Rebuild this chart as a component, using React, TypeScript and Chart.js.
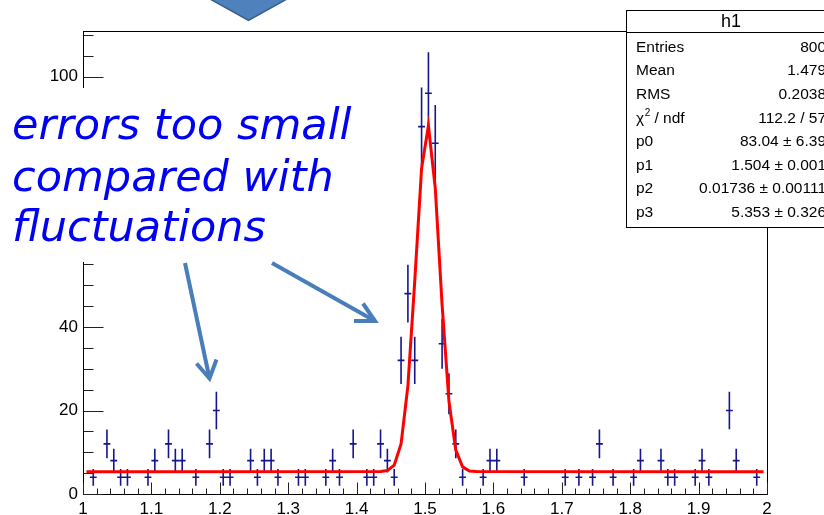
import React, { useEffect, useRef } from 'react';
import { Chart, registerables } from 'chart.js';

Chart.register(...registerables);

// Histogram h1: bin centres (bin width 0.01) and contents of the non-empty bins
const binWidth = 0.01;
const binCenters = [
  1.015, 1.035, 1.045, 1.055, 1.065, 1.095, 1.105, 1.125, 1.135, 1.145,
  1.165, 1.185, 1.195, 1.205, 1.215, 1.245, 1.255, 1.265, 1.275, 1.285,
  1.315, 1.325, 1.355, 1.365, 1.375, 1.395, 1.415, 1.425, 1.435, 1.445,
  1.455, 1.465, 1.475, 1.485, 1.495, 1.505, 1.515, 1.525, 1.535, 1.545,
  1.555, 1.585, 1.595, 1.605, 1.645, 1.705, 1.725, 1.745, 1.755, 1.775,
  1.805, 1.815, 1.845, 1.855, 1.865, 1.895, 1.905, 1.915, 1.945, 1.955,
  1.985,
];
const binCounts = [
  4, 12, 8, 4, 4, 4, 8, 12, 8, 8,
  4, 12, 20, 4, 4, 8, 4, 8, 8, 4,
  4, 4, 4, 8, 4, 12, 4, 4, 12, 8,
  4, 32, 48, 32, 88, 96, 84, 36, 24, 12,
  4, 4, 8, 8, 4, 4, 4, 4, 12, 4,
  4, 8, 8, 4, 4, 4, 8, 4, 20, 8,
  4,
];

// Fit curve (gaussian + constant)
const fitX = [1.005, 1.435, 1.445, 1.455, 1.465, 1.475, 1.485, 1.495, 1.505, 1.515, 1.525, 1.535, 1.545, 1.555, 1.565, 1.575, 1.995];
const fitY = [5.35, 5.38, 5.61, 6.9, 12.0, 25.9, 51.0, 78.0, 88.2, 73.3, 45.3, 22.2, 10.5, 6.5, 5.5, 5.37, 5.35];

// Axis ticks
const xTickValues = [1, 1.1, 1.2, 1.3, 1.4, 1.5, 1.6, 1.7, 1.8, 1.9, 2];
const xTickLabels = ['1', '1.1', '1.2', '1.3', '1.4', '1.5', '1.6', '1.7', '1.8', '1.9', '2'];
const xMinorStep = 0.02;
const yTickValues = [0, 20, 40, 60, 80, 100];
const yTickLabels = ['0', '20', '40', '60', '80', '100'];
const yMinorStep = 5;
const xMin = 1;
const xMax = 2;
const yMin = 0;
const yMax = 110.9;

// Stats box
const statTitle = 'h1';
const statLabels = ['Entries', 'Mean', 'RMS', 'CHI2', 'p0', 'p1', 'p2', 'p3'];
const statValues = ['800', '1.479', '0.2038', '112.2 / 57', '83.04 \u00b1 6.39', '1.504 \u00b1 0.001', '0.01736 \u00b1 0.00111', '5.353 \u00b1 0.326'];

// Annotation
const noteLines = ['errors too small', 'compared with', 'fluctuations'];

const FONT = "'Liberation Sans', Arial, Helvetica, sans-serif";

const rootPlugin = {
  id: 'rootStyle',
  beforeDatasetsDraw(chart: any) {
    const { ctx, chartArea: a, scales } = chart;
    const xs = scales.x;
    const ys = scales.y;
    ctx.save();
    // frame
    const L = Math.round(a.left) + 0.5;
    const T = Math.round(a.top) + 0.5;
    const R = Math.round(a.right) + 0.5;
    const B = Math.round(a.bottom) + 0.5;
    ctx.strokeStyle = '#000';
    ctx.lineWidth = 1;
    ctx.strokeRect(L, T, R - L, B - T);
    // ticks
    ctx.beginPath();
    ctx.strokeStyle = '#222';
    for (let k = 0; ; k++) {
      const v = yMin + k * yMinorStep;
      if (v > yMax + 1e-9) break;
      const major = Math.abs(v / 20 - Math.round(v / 20)) < 1e-6;
      const py = Math.round(ys.getPixelForValue(v)) + 0.5;
      ctx.moveTo(L, py);
      ctx.lineTo(L + (major ? 20 : 10), py);
    }
    for (let k = 0; ; k++) {
      const v = xMin + k * xMinorStep;
      if (v > xMax + 1e-9) break;
      const major = Math.abs(v * 10 - Math.round(v * 10)) < 1e-6;
      const px = Math.round(xs.getPixelForValue(v)) + 0.5;
      ctx.moveTo(px, B);
      ctx.lineTo(px, B - (major ? 12 : 6));
    }
    ctx.stroke();
    // error bars
    ctx.beginPath();
    ctx.strokeStyle = '#15158f';
    ctx.lineWidth = 1.6;
    binCenters.forEach((c, i) => {
      const n = binCounts[i];
      const e = Math.sqrt(n);
      const px = xs.getPixelForValue(c);
      const py = ys.getPixelForValue(n);
      ctx.moveTo(xs.getPixelForValue(c - binWidth / 2), py);
      ctx.lineTo(xs.getPixelForValue(c + binWidth / 2), py);
      ctx.moveTo(px, ys.getPixelForValue(n + e));
      ctx.lineTo(px, ys.getPixelForValue(n - e));
    });
    ctx.stroke();
    ctx.restore();
  },
  afterDraw(chart: any) {
    const { ctx } = chart;
    ctx.save();

    // top chevron (slide decoration)
    ctx.beginPath();
    ctx.moveTo(194, -10);
    ctx.lineTo(303, -10);
    ctx.lineTo(248.5, 20.5);
    ctx.closePath();
    ctx.fillStyle = '#4f81bd';
    ctx.fill();
    ctx.strokeStyle = '#385d8a';
    ctx.lineWidth = 1.5;
    ctx.stroke();

    // stats box
    const bx = 626.5, by = 10.5, bw = 220, bh = 217;
    ctx.fillStyle = '#fff';
    ctx.fillRect(bx, by, bw, bh);
    ctx.strokeStyle = '#000';
    ctx.lineWidth = 1;
    ctx.strokeRect(bx, by, bw, bh);
    ctx.beginPath();
    ctx.moveTo(bx, 32.5);
    ctx.lineTo(bx + bw, 32.5);
    ctx.stroke();
    ctx.fillStyle = '#000';
    ctx.textBaseline = 'middle';
    ctx.textAlign = 'center';
    ctx.font = `18px ${FONT}`;
    ctx.fillText(statTitle, 731, 22);
    ctx.font = `15.5px ${FONT}`;
    statLabels.forEach((lab, i) => {
      const yy = 47.5 + i * 23.6;
      ctx.textAlign = 'left';
      if (lab === 'CHI2') {
        ctx.font = `15.5px ${FONT}`;
        ctx.fillText('\u03c7', 636, yy);
        const w1 = ctx.measureText('\u03c7').width;
        ctx.font = `10px ${FONT}`;
        ctx.fillText('2', 636 + w1 + 0.5, yy - 5);
        const w2 = ctx.measureText('2').width;
        ctx.font = `15.5px ${FONT}`;
        ctx.fillText(' / ndf', 636 + w1 + w2 + 0.5, yy);
      } else {
        ctx.fillText(lab, 636, yy);
      }
      ctx.textAlign = 'right';
      ctx.fillText(statValues[i], 826, yy);
    });

    // annotation box covering part of the y axis
    ctx.fillStyle = '#fff';
    ctx.fillRect(0, 88, 360, 174);
    ctx.fillStyle = '#0000f5';
    ctx.textAlign = 'left';
    ctx.textBaseline = 'alphabetic';
    ctx.font = "italic 43px 'DejaVu Sans', Verdana, sans-serif";
    const baselines = [139, 190.5, 240.5];
    noteLines.forEach((t, i) => ctx.fillText(t, 12, baselines[i]));

    // arrows
    ctx.strokeStyle = '#4a7ebb';
    ctx.lineWidth = 4;
    ctx.lineCap = 'butt';
    ctx.lineJoin = 'miter';
    const arrows = [
      { from: [185, 263], tip: [209.5, 378.5], w1: [196.5, 363.5], w2: [216.5, 359.5] },
      { from: [272, 263], tip: [375, 321], w1: [363, 303.5], w2: [354, 321] },
    ];
    arrows.forEach((ar) => {
      ctx.beginPath();
      ctx.moveTo(ar.from[0], ar.from[1]);
      ctx.lineTo(ar.tip[0], ar.tip[1]);
      ctx.stroke();
      ctx.beginPath();
      ctx.moveTo(ar.w1[0], ar.w1[1]);
      ctx.lineTo(ar.tip[0], ar.tip[1]);
      ctx.lineTo(ar.w2[0], ar.w2[1]);
      ctx.stroke();
    });
    ctx.restore();
  },
};

export default function App() {
  const ref = useRef<HTMLCanvasElement>(null);
  useEffect(() => {
    const canvas = ref.current;
    if (!canvas) return;
    const chart = new Chart(canvas, {
      type: 'scatter',
      data: {
        datasets: [
          {
            label: 'fit',
            data: fitX.map((x, i) => ({ x, y: fitY[i] })),
            showLine: true,
            borderColor: '#ff0000',
            backgroundColor: '#ff0000',
            borderWidth: 3,
            pointRadius: 0,
            tension: 0,
            order: 0,
          },
          {
            label: 'h1',
            data: binCenters.map((x, i) => ({ x, y: binCounts[i] })),
            showLine: false,
            pointRadius: 0,
            borderColor: '#15158f',
            order: 1,
          },
        ],
      },
      options: {
        responsive: false,
        animation: false,
        devicePixelRatio: 1,
        layout: { padding: { left: 0, top: 31, right: 57, bottom: 0 } },
        plugins: { legend: { display: false }, tooltip: { enabled: false } },
        scales: {
          x: {
            type: 'linear',
            min: xMin,
            max: xMax,
            grid: { display: false, drawTicks: false },
            border: { display: false },
            afterBuildTicks: (s: any) => {
              s.ticks = xTickValues.map((v) => ({ value: v }));
            },
            afterFit: (s: any) => {
              s.height = 21;
            },
            ticks: {
              autoSkip: false,
              maxRotation: 0,
              padding: 5,
              color: '#000',
              font: { family: FONT, size: 17 },
              callback: (_v: any, i: number) => xTickLabels[i],
            },
          },
          y: {
            type: 'linear',
            min: yMin,
            max: yMax,
            grid: { display: false, drawTicks: false },
            border: { display: false },
            afterBuildTicks: (s: any) => {
              s.ticks = yTickValues.map((v) => ({ value: v }));
            },
            afterFit: (s: any) => {
              s.width = 83;
            },
            ticks: {
              autoSkip: false,
              padding: 5,
              color: '#000',
              font: { family: FONT, size: 17 },
              callback: (_v: any, i: number) => yTickLabels[i],
            },
          },
        },
      },
      plugins: [rootPlugin],
    } as any);
    return () => chart.destroy();
  }, []);
  return (
    <div style={{ position: 'fixed', left: 0, top: 0, width: 824, height: 515, background: '#fff' }}>
      <canvas ref={ref} width={824} height={515} style={{ display: 'block' }} />
    </div>
  );
}
